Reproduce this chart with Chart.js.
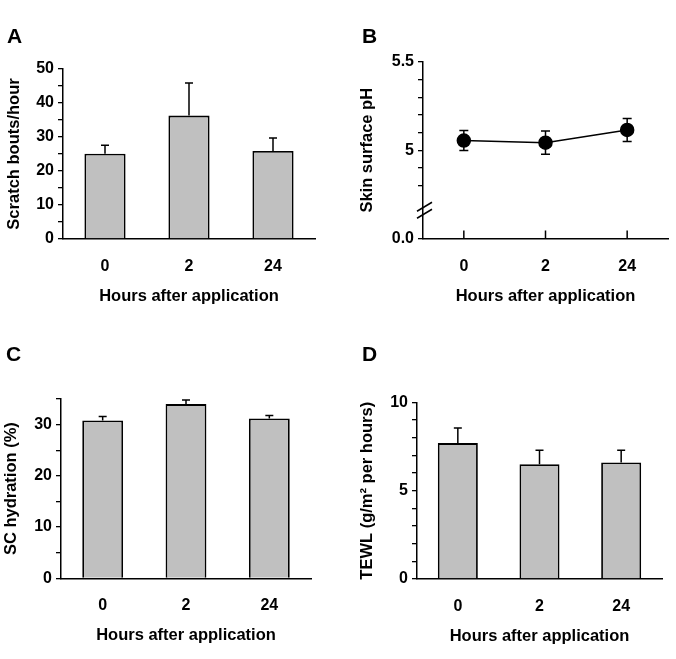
<!DOCTYPE html>
<html>
<head>
<meta charset="utf-8">
<script src="https://cdn.jsdelivr.net/npm/chart.js@4.4.1/dist/chart.umd.min.js"></script>
<style>
  body { margin: 0; background: #fff; }
  #wrap { position: relative; width: 676px; height: 659px; }
  .panel { position: absolute; }
  .letter { position: absolute; font: bold 21px "Liberation Sans", Arial, sans-serif; line-height: 1; color: #000; }
</style>
</head>
<body>
<div id="wrap">
  <div class="panel" style="left:0;top:0;width:338px;height:330px"><canvas id="chartA"></canvas></div>
  <div class="panel" style="left:338px;top:0;width:338px;height:330px"><canvas id="chartB"></canvas></div>
  <div class="panel" style="left:0;top:330px;width:338px;height:329px"><canvas id="chartC"></canvas></div>
  <div class="panel" style="left:338px;top:330px;width:338px;height:329px"><canvas id="chartD"></canvas></div>
  <div class="letter" style="left:7px;top:25px">A</div>
  <div class="letter" style="left:362px;top:25px">B</div>
  <div class="letter" style="left:6px;top:343px">C</div>
  <div class="letter" style="left:362px;top:343px">D</div>
</div>
<script>
const hours = ["0", "2", "24"];
const xTitle = "Hours after application";

// A - scratching
const scratchMean = [25.1, 36.3, 25.9];
const scratchErr = [2.5, 9.6, 3.8];
// B - skin surface pH (axis broken below 4.7, bottom shown as 0.0)
const phMean = [5.055, 5.043, 5.115];
const phErr = [0.057, 0.066, 0.065];
// C - SC hydration
const hydrationMean = [30.8, 34.0, 31.2];
const hydrationErr = [0.8, 0.8, 0.6];
// D - TEWL
const tewlMean = [7.7, 6.5, 6.6];
const tewlErr = [0.85, 0.8, 0.7];

Chart.defaults.font.family = '"Liberation Sans", Arial, sans-serif';
Chart.defaults.font.weight = "bold";
Chart.defaults.color = "#000";

// error bars drawn from the data arrays through the chart's scales
const errorBars = {
  id: "errorBars",
  afterDatasetsDraw(chart, args, opts) {
    if (!opts.errors) return;
    const ctx = chart.ctx;
    const y = chart.scales.y;
    const meta = chart.getDatasetMeta(0);
    const vals = chart.data.datasets[0].data;
    ctx.save();
    ctx.strokeStyle = "#000";
    ctx.lineWidth = 1.5;
    meta.data.forEach((el, i) => {
      const x = el.x;
      const hi = y.getPixelForValue(vals[i] + opts.errors[i]);
      const lo = opts.both ? y.getPixelForValue(vals[i] - opts.errors[i]) : y.getPixelForValue(vals[i]);
      const w = opts.cap / 2;
      ctx.beginPath();
      ctx.moveTo(x, lo);
      ctx.lineTo(x, hi);
      ctx.moveTo(x - w, hi);
      ctx.lineTo(x + w, hi);
      if (opts.both) {
        ctx.moveTo(x - w, lo);
        ctx.lineTo(x + w, lo);
      }
      ctx.stroke();
    });
    ctx.restore();
  }
};

// axis break and inner x ticks for panel B
const axisExtras = {
  id: "axisExtras",
  afterDraw(chart, args, opts) {
    const ctx = chart.ctx;
    const area = chart.chartArea;
    ctx.save();
    ctx.strokeStyle = "#000";
    ctx.lineWidth = 1.5;
    if (opts.innerTicks) {
      const xs = chart.scales.x;
      hours.forEach((h, i) => {
        const px = xs.getPixelForValue(i);
        ctx.beginPath();
        ctx.moveTo(px, area.bottom);
        ctx.lineTo(px, area.bottom - 8);
        ctx.stroke();
      });
    }
    if (opts.breakAt) {
      const py = chart.scales.y.getPixelForValue(opts.breakAt);
      const ax = area.left;
      ctx.beginPath();
      ctx.moveTo(ax - 6, py + 1);
      ctx.lineTo(ax + 9, py - 8);
      ctx.moveTo(ax - 6, py + 8);
      ctx.lineTo(ax + 9, py - 1);
      ctx.stroke();
    }
    ctx.restore();
  }
};

function near(a, b) { return Math.abs(a - b) < 1e-6; }

function makeChart(id, p) {
  const isLine = p.type === "line";
  const dataset = isLine ? {
    data: p.values,
    borderColor: "#000",
    borderWidth: 1.5,
    pointRadius: 6.5,
    pointBackgroundColor: "#000",
    pointBorderColor: "#000",
    tension: 0
  } : {
    data: p.values,
    backgroundColor: "#c0c0c0",
    borderColor: "#000",
    borderWidth: 1.8,
    categoryPercentage: 1,
    barPercentage: 0.49
  };
  return new Chart(document.getElementById(id), {
    type: p.type,
    data: { labels: hours, datasets: [dataset] },
    options: {
      responsive: true,
      maintainAspectRatio: false,
      animation: false,
      layout: { padding: { top: p.top, right: p.right, left: 0, bottom: 0 } },
      plugins: {
        legend: { display: false },
        tooltip: { enabled: false },
        errorBars: { errors: p.errors, both: isLine, cap: isLine ? 9 : 8 },
        axisExtras: { innerTicks: isLine, breakAt: p.breakAt }
      },
      scales: {
        x: {
          offset: true,
          grid: { display: false, drawTicks: false },
          border: { display: true, color: "#000", width: 1.5 },
          ticks: { font: { size: 16 }, padding: 18 },
          title: { display: true, text: xTitle, font: { size: 16.5 }, padding: { top: 0, bottom: p.xTitlePad } },
          afterFit: (s) => { s.height = p.xHeight; }
        },
        y: {
          min: p.min,
          max: p.max,
          grid: {
            drawOnChartArea: false,
            drawTicks: true,
            tickLength: 5,
            lineWidth: 1.3,
            color: (c) => (c.tick && p.hideTick && p.hideTick(c.tick.value)) ? "rgba(0,0,0,0)" : "#000"
          },
          border: { display: true, color: "#000", width: 1.5 },
          ticks: {
            stepSize: p.step,
            autoSkip: false,
            font: { size: 16 },
            padding: 4,
            callback: p.label
          },
          title: { display: true, text: p.yTitle, font: { size: 16.5 }, padding: { top: p.yTitlePad, bottom: 0 } },
          afterFit: (s) => { s.width = p.axisX; }
        }
      }
    },
    plugins: [errorBars, axisExtras]
  });
}

makeChart("chartA", {
  type: "bar", values: scratchMean, errors: scratchErr,
  min: 0, max: 50, step: 5,
  label: (v) => (v % 10 === 0 ? String(v) : ""),
  yTitle: "Scratch bouts/hour",
  top: 69, right: 23, axisX: 63, xHeight: 91, xTitlePad: 24, yTitlePad: 5
});

makeChart("chartB", {
  type: "line", values: phMean, errors: phErr,
  min: 4.5, max: 5.5, step: 0.1, breakAt: 4.66,
  hideTick: (v) => v > 4.55 && v < 4.75,
  label: (v) => near(v, 4.5) ? "0.0" : near(v, 5) ? "5" : near(v, 5.5) ? "5.5" : "",
  yTitle: "Skin surface pH",
  top: 62, right: 8, axisX: 85, xHeight: 91.5, xTitlePad: 24, yTitlePad: 20
});

makeChart("chartC", {
  type: "bar", values: hydrationMean, errors: hydrationErr,
  min: 0, max: 35, step: 5,
  label: (v) => (v % 10 === 0 ? String(v) : ""),
  yTitle: "SC hydration (%)",
  top: 69, right: 27, axisX: 61, xHeight: 80.7, xTitlePad: 14, yTitlePad: 2
});

makeChart("chartD", {
  type: "bar", values: tewlMean, errors: tewlErr,
  min: 0, max: 10, step: 1,
  label: (v) => (v % 5 === 0 ? String(v) : ""),
  yTitle: "TEWL (g/m\u00b2 per hours)",
  top: 72.5, right: 14, axisX: 79, xHeight: 80, xTitlePad: 13, yTitlePad: 20
});
</script>
</body>
</html>
